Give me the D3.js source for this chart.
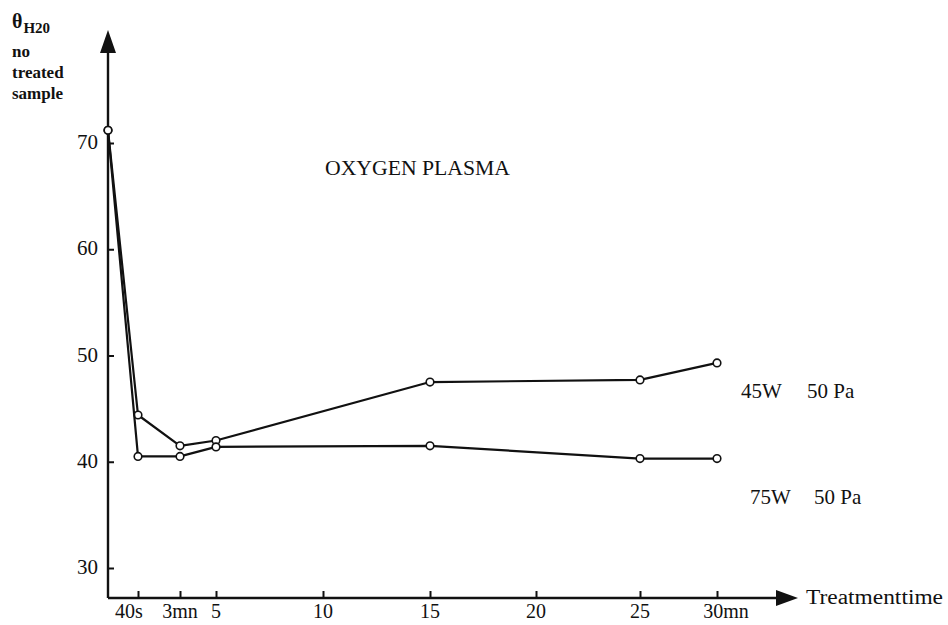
<!DOCTYPE html>
<html>
<head>
<meta charset="utf-8">
<script src="https://cdn.jsdelivr.net/npm/d3@7"></script>
<style>
  html, body { margin: 0; padding: 0; background: #fff; }
  svg { display: block; }
  text { font-family: "Liberation Serif", "DejaVu Serif", serif; fill: #111; }
</style>
</head>
<body>
<svg id="chart" width="948" height="625"></svg>
<script>
// ---- data ----
const times = [0, 40 / 60, 3, 5, 15, 25, 30];            // minutes
const series45W = [71.2, 44.4, 41.5, 42.0, 47.5, 47.7, 49.3];
const series75W = [71.2, 40.5, 40.5, 41.4, 41.5, 40.3, 40.3];
const xTickValues = [40 / 60, 3, 5, 10, 15, 20, 25, 30];
const xTickLabels = ["40s", "3mn", "5", "10", "15", "20", "25", "30mn"];
const yTickValues = [30, 40, 50, 60, 70];
const seriesNames = ["45W", "75W"];

// ---- layout ----
const svg = d3.select("#chart");
const originX = 108, originY = 598;
// hand-drawn time axis: piecewise positions of its ticks (offsets from origin)
const xDomain = [0, 40 / 60, 3, 5, 10, 15, 20, 25, 30];
const xRangeOffsets = [0, 30, 72, 108, 215, 322, 428, 532, 609];
const x = d3.scaleLinear().domain(xDomain).range(xRangeOffsets.map(d => originX + d));
const y = d3.scaleLinear().domain([30, 70]).range([568, 143]);

const ink = "#111";

// axes lines
svg.append("line").attr("x1", originX).attr("y1", originY).attr("x2", originX).attr("y2", 48)
  .attr("stroke", ink).attr("stroke-width", 2.4);
svg.append("path").attr("d", `M${originX},30 L${originX - 8},53 L${originX + 8},53 Z`).attr("fill", ink);
svg.append("line").attr("x1", originX).attr("y1", originY).attr("x2", 780).attr("y2", originY)
  .attr("stroke", ink).attr("stroke-width", 2.4);
svg.append("path").attr("d", `M798,${originY} L776,${originY - 8} L776,${originY + 8} Z`).attr("fill", ink);

// y ticks
const yAxis = d3.axisRight(y).tickValues(yTickValues).tickSize(6).tickFormat("");
const gy = svg.append("g").attr("transform", `translate(${originX},0)`).call(yAxis);
gy.select(".domain").remove();
gy.selectAll(".tick line").attr("stroke", ink).attr("stroke-width", 2);
svg.selectAll(".ylab").data(yTickValues).enter().append("text")
  .attr("class", "ylab")
  .attr("x", 98).attr("y", d => y(d) + 6)
  .attr("text-anchor", "end").attr("font-size", 21)
  .text(d => d);

// x ticks
const xAxis = d3.axisTop(x).tickValues(xTickValues).tickSize(7).tickFormat("");
const gx = svg.append("g").attr("transform", `translate(0,${originY})`).call(xAxis);
gx.select(".domain").remove();
gx.selectAll(".tick line").attr("stroke", ink).attr("stroke-width", 2);
svg.selectAll(".xlab").data(xTickValues).enter().append("text")
  .attr("class", "xlab")
  .attr("x", (d, i) => x(d) + (i === xTickValues.length - 1 ? 9 : (i === 0 ? -9 : 0)))
  .attr("y", 618)
  .attr("text-anchor", "middle").attr("font-size", 20)
  .text((d, i) => xTickLabels[i]);

// series lines
const line = d3.line().x(d => x(d[0])).y(d => y(d[1]));
[series45W, series75W].forEach((vals, k) => {
  const pts = times.map((t, i) => [t, vals[i]]);
  svg.append("path").datum(pts)
    .attr("d", line).attr("fill", "none")
    .attr("stroke", ink).attr("stroke-width", 2.2).attr("stroke-linejoin", "round");
  svg.selectAll(".pt" + k).data(pts).enter().append("circle")
    .attr("class", "pt" + k)
    .attr("cx", d => x(d[0])).attr("cy", d => y(d[1]))
    .attr("r", 3.8).attr("fill", "#fff").attr("stroke", ink).attr("stroke-width", 1.6);
});

// texts
const title = svg.append("text").attr("x", 12).attr("y", 28).attr("font-size", 20).attr("font-weight", "bold");
title.append("tspan").text("θ");
title.append("tspan").attr("font-size", 15).attr("dy", 5).attr("dx", 1).text("H20");
svg.append("text").attr("x", 12).attr("y", 57).attr("font-size", 17).attr("font-weight", "bold").text("no");
svg.append("text").attr("x", 12).attr("y", 78).attr("font-size", 17).attr("font-weight", "bold").text("treated");
svg.append("text").attr("x", 12).attr("y", 99).attr("font-size", 17).attr("font-weight", "bold").text("sample");

svg.append("text").attr("x", 325).attr("y", 175).attr("font-size", 20)
  .attr("textLength", 185).attr("lengthAdjust", "spacingAndGlyphs").text("OXYGEN PLASMA");

svg.append("text").attr("x", 806).attr("y", 604).attr("font-size", 20)
  .attr("textLength", 137).attr("lengthAdjust", "spacingAndGlyphs").text("Treatmenttime");

const lab45 = svg.append("text").attr("x", 741).attr("y", 398).attr("font-size", 21);
lab45.append("tspan").text(seriesNames[0]);
lab45.append("tspan").attr("x", 807).text("50 Pa");
const lab75 = svg.append("text").attr("x", 750).attr("y", 504).attr("font-size", 21);
lab75.append("tspan").text(seriesNames[1]);
lab75.append("tspan").attr("x", 814).text("50 Pa");
</script>
</body>
</html>
